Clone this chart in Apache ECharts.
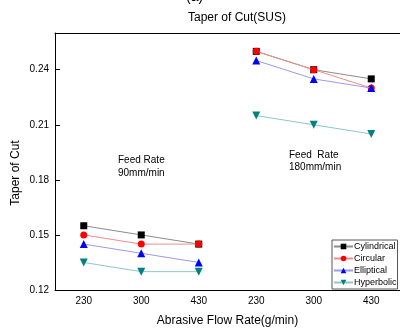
<!DOCTYPE html>
<html><head><meta charset="utf-8">
<script src="https://cdn.jsdelivr.net/npm/echarts@6/dist/echarts.min.js"></script>
<style>html,body{margin:0;padding:0;background:#fff}#c{width:400px;height:332px}</style>
</head><body><div id="c"></div>
<script>
var categories = ['230','300','430','230 ','300 ','430 '];
var cylindrical = [0.155, 0.150, 0.145, 0.250, 0.240, 0.235];
var circular    = [0.150, 0.145, 0.145, 0.250, 0.240, 0.230];
var elliptical  = [0.145, 0.140, 0.135, 0.245, 0.235, 0.230];
var hyperbolic  = [0.135, 0.130, 0.130, 0.215, 0.210, 0.205];
var yTicks = [0.12, 0.15, 0.18, 0.21, 0.24];

var defs = [
  {name:'Cylindrical', data:cylindrical, symbol:'rect', size:7, mc:'#000000', lc:'#8c8c8c'},
  {name:'Circular', data:circular, symbol:'circle', size:7, mc:'#ff0000', lc:'#f08c8c'},
  {name:'Elliptical', data:elliptical, symbol:'triangle', size:8, mc:'#0000ff', lc:'#9a9aee'},
  {name:'Hyperbolic', data:hyperbolic, symbol:'path://M0,0L10,0L5,9Z', size:8, mc:'#008080', lc:'#8cc8c8'}
];
var series = [];
defs.forEach(function(d, k){
  [0,1].forEach(function(g){
    var arr = d.data.map(function(v,i){ return (Math.floor(i/3)===g) ? v : '-'; });
    series.push({
      name:d.name, type:'line', data:arr, symbol:d.symbol, symbolSize:d.size,
      itemStyle:{color:d.mc}, lineStyle:{color:d.lc, width:1}, connectNulls:false,
      animation:false, z: 2 + k
    });
  });
});

var font = 'Liberation Sans, Arial';
var chart = echarts.init(document.getElementById('c'));
chart.setOption({
  backgroundColor:'#fff',
  animation:false,
  title:{text:'Taper of Cut(SUS)', left:232, top:7, textAlign:'center',
    textStyle:{fontFamily:font, fontSize:12, fontWeight:'normal', color:'#000'}},
  grid:{left:55, top:33, right:-2, bottom:37, show:false},
  legend:{
    data:defs.map(function(d){return d.name;}), orient:'vertical', left:332, top:240,
    itemWidth:19, itemHeight:7, itemGap:3, padding:[2,1,2,1],
    borderColor:'#555', borderWidth:1, backgroundColor:'#fff',
    textStyle:{fontFamily:font, fontSize:9, color:'#000', padding:[0,0,0,-4]}
  },
  xAxis:[{
    type:'category', data:categories, boundaryGap:true,
    name:'Abrasive Flow Rate(g/min)', nameLocation:'middle', nameGap:25,
    nameTextStyle:{fontFamily:font, fontSize:12, color:'#000'},
    axisLine:{lineStyle:{color:'#000', width:1}},
    axisTick:{inside:true, length:5, alignWithLabel:true, lineStyle:{color:'#000'}},
    axisLabel:{fontFamily:font, fontSize:10, color:'#000', margin:6,
      formatter:function(v){return v.trim();}},
    splitLine:{show:false}
  },{
    type:'category', data:categories, position:'top',
    axisLine:{show:true, lineStyle:{color:'#000', width:1}},
    axisTick:{show:false}, axisLabel:{show:false}, splitLine:{show:false}
  }],
  yAxis:{
    type:'value', min:0.12, max:0.26, interval:0.03,
    axisLine:{show:true, lineStyle:{color:'#000', width:1}},
    axisTick:{show:true, inside:true, length:5, lineStyle:{color:'#000'}},
    axisLabel:{fontFamily:font, fontSize:10, color:'#000', margin:6,
      formatter:function(v){ var s = yTicks.find(function(t){return Math.abs(t-v)<1e-6;}); return s===undefined?'':s.toFixed(2);} },
    splitLine:{show:false}
  },
  graphic:[
    {type:'text', left:186, top:-10, style:{text:'(a)', font:'14px Liberation Sans, Arial', fill:'#000'}},
    {type:'text', x:16, y:173, rotation:Math.PI/2, style:{text:'Taper of Cut', font:'12px Liberation Sans, Arial', fill:'#000', align:'center', verticalAlign:'middle'}},
    {type:'text', left:118, top:154, style:{text:'Feed Rate\n90mm/min', font:'10px Liberation Sans, Arial', fill:'#000', lineHeight:13}},
    {type:'text', left:289, top:149, style:{text:'Feed  Rate\n180mm/min', font:'10px Liberation Sans, Arial', fill:'#000', lineHeight:12}}
  ],
  series:series
});
</script></body></html>
